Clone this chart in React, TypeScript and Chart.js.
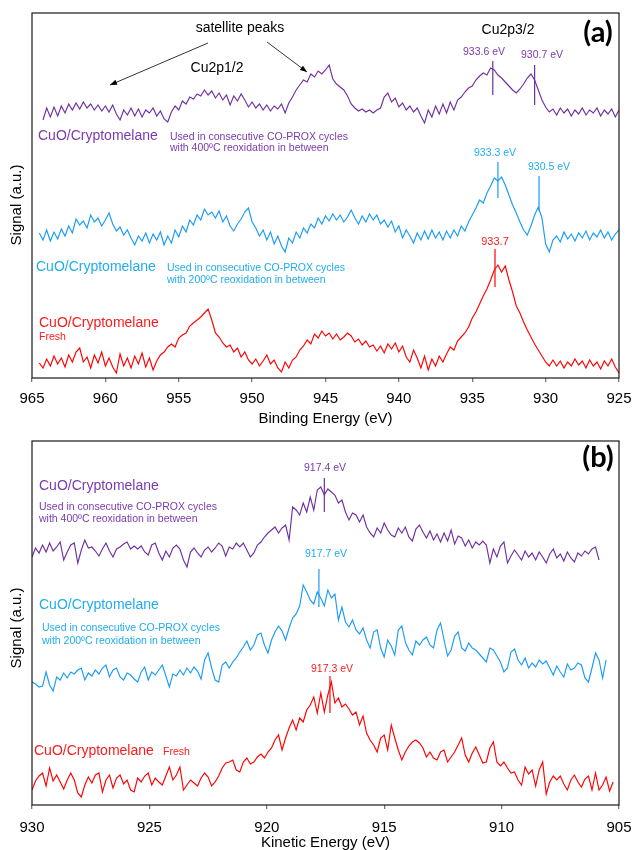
import React, { useEffect, useRef } from "react";
import { Chart, registerables } from "chart.js";
Chart.register(...registerables);

// ---------- Panel (a): Cu2p XPS, binding energy grid (eV) ----------
const energyA: number[] = Array.from({ length: 159 }, (_, i) => +(964.5 - 0.25 * i).toFixed(2));

const purpleA: (number | null)[] = [
  null,258,270,261,271,262,272,265,274,268,
  275,269,276,270,274,268,273,267,272,266,
  273,264,258,268,263,270,262,269,261,268,
  265,270,262,267,259,256,266,272,268,277,
  274,281,279,284,282,288,283,287,280,285,
  278,283,273,282,277,284,278,271,276,270,
  274,268,273,267,272,269,274,265,275,281,
  288,293,298,296,304,301,307,304,308,313,
  299,294,291,288,282,274,270,267,269,266,
  268,265,268,270,281,285,276,280,271,275,
  268,272,266,270,262,255,268,261,272,264,
  274,265,276,268,278,281,286,290,292,298,
  302,305,303,310,308,303,300,296,292,288,
  285,289,294,300,304,298,288,278,271,266,
  269,263,270,265,269,262,268,264,270,263,
  268,265,270,262,268,264,269,261,268,
];

const blueA: (number | null)[] = [
  145,138,148,137,146,139,149,142,152,145,
  159,153,157,150,163,156,160,152,158,165,
  154,147,151,143,148,140,133,142,137,145,
  135,144,138,146,133,142,135,148,141,152,
  146,158,153,163,158,169,163,166,160,167,
  156,162,152,147,154,159,166,170,156,150,
  142,148,138,146,134,142,132,126,140,135,
  146,140,150,145,154,150,160,154,162,157,
  164,158,163,156,161,168,160,154,162,156,
  164,158,163,154,158,151,157,146,152,140,
  148,142,135,145,138,147,139,148,140,146,
  138,147,140,148,142,152,147,156,163,170,
  178,175,185,192,200,197,201,193,183,173,
  165,156,148,143,152,163,171,160,134,126,
  138,142,136,146,139,144,137,145,140,147,
  138,145,141,148,140,146,138,144,148,
];

const redA: (number | null)[] = [
  15,10,19,12,22,14,20,11,23,16,
  26,30,16,21,10,23,15,26,12,20,
  11,5,24,12,20,10,22,14,25,11,
  20,8,17,23,26,31,34,31,40,43,
  45,52,55,58,61,65,69,58,45,41,
  35,31,33,26,30,21,26,18,14,19,
  12,17,23,14,18,10,6,16,10,18,
  21,28,32,38,34,44,40,47,42,45,
  39,44,38,41,45,42,36,39,33,37,
  31,33,27,32,25,34,29,35,26,32,
  21,16,28,20,10,22,8,19,12,22,
  16,24,31,28,37,41,45,51,60,66,
  74,82,89,98,108,113,106,112,98,86,
  72,65,56,48,41,34,28,22,16,12,
  18,12,17,10,16,12,19,13,17,10,
  18,12,16,9,17,12,19,11,5,
];

// peak marker lines (energy, low, high, series)
const markerEnergyA = [933.6, 930.75, 933.25, 930.45, 933.45];
const markerLowA = [283, 273, 180, 167, 91];
const markerHighA = [317, 313, 216, 202, 129];
const markerSeriesA = [0, 0, 1, 1, 2];

// ---------- Panel (b): Cu LMM Auger, kinetic energy grid (eV) ----------
const energyB: number[] = Array.from({ length: 166 }, (_, j) => +(930 - 0.15 * j).toFixed(2));

const purpleB: (number | null)[] = [
  248,257,252,260,253,262,254,258,263,245,
  253,260,262,242,255,265,257,258,254,249,
  256,262,254,248,256,258,261,263,256,259,
  256,259,253,250,260,262,252,245,254,248,
  257,260,256,245,238,253,257,252,248,255,
  258,253,257,262,259,249,258,256,262,258,
  262,255,248,252,260,263,268,272,275,278,
  272,277,280,265,298,295,290,302,293,308,
  295,315,318,310,316,313,310,302,305,293,
  285,292,290,283,290,278,272,268,277,272,
  282,275,270,268,277,272,278,268,264,276,
  280,273,267,274,265,271,263,272,264,275,
  261,269,267,259,265,257,263,260,264,260,
  242,256,248,259,263,242,249,255,250,245,
  254,248,252,245,253,248,242,251,256,247,
  251,244,253,247,243,252,249,254,251,256,
  258,245,null,null,null,null,
];

const blueB: (number | null)[] = [
  123,121,118,119,133,120,114,128,125,132,
  127,133,131,135,137,125,132,129,135,131,
  137,140,128,135,137,128,125,132,130,126,
  123,133,138,125,133,130,135,140,129,118,
  131,129,135,130,137,132,138,134,126,145,
  152,137,125,123,140,143,137,143,147,153,
  158,164,155,160,170,172,160,152,165,173,
  179,174,165,177,187,191,199,220,213,205,
  201,213,207,199,215,207,211,185,198,183,
  178,185,175,171,177,165,157,173,175,157,
  148,165,159,150,175,179,163,155,150,164,
  160,165,168,160,157,175,182,165,149,155,
  169,173,157,154,162,157,155,151,147,143,
  157,155,149,143,133,137,153,156,145,140,
  147,137,142,138,145,141,144,137,130,139,
  133,128,141,135,137,142,140,127,123,137,
  152,145,127,145,null,null,
];

const redB: (number | null)[] = [
  15,24,29,32,19,37,24,30,23,16,
  25,32,25,12,8,20,28,22,30,32,
  13,25,30,17,27,30,21,25,15,13,
  27,23,29,32,20,27,23,20,29,38,
  25,30,38,15,20,25,22,19,27,32,
  28,19,23,29,37,42,43,45,35,33,
  43,47,41,43,48,51,47,53,57,65,
  70,55,67,77,85,75,87,83,95,100,
  108,92,112,93,110,123,102,107,98,101,
  96,90,93,80,89,72,65,60,53,67,
  70,55,80,67,55,45,53,59,63,65,
  62,57,48,53,47,45,53,55,43,48,
  53,60,67,50,43,52,58,50,42,43,
  57,63,43,39,43,37,32,33,25,20,
  38,31,35,19,35,43,11,23,29,25,
  29,21,15,25,30,23,18,26,29,15,
  32,15,20,28,14,23,
];

const markerEnergyB = [917.55, 917.78, 917.31];
const markerLowB = [293, 198, 92];
const markerHighB = [327, 236, 129];
const markerSeriesB = [0, 1, 2];

const seriesNames = ["CuO/Cryptomelane (400ºC reox.)", "CuO/Cryptomelane (200ºC reox.)", "CuO/Cryptomelane Fresh"];
const lineColors = ["#7030A0", "#1A9BF5", "#FF0000"];
const textColors = ["#7A3AAE", "#20ACEF", "#FF1A1A"];

const FONT = "'Liberation Sans', Arial, sans-serif";

type Txt = { t: string; x: number; y: number; size: number; color: string; align?: CanvasTextAlign; bold?: boolean; family?: string };
type Arrow = { x1: number; y1: number; x2: number; y2: number };

const textsA: Txt[] = [
  { t: "satellite peaks", x: 240, y: 28, size: 14, color: "#000" },
  { t: "Cu2p1/2", x: 217, y: 68, size: 14, color: "#000" },
  { t: "Cu2p3/2", x: 508, y: 30, size: 14, color: "#000" },
  { t: "(a)", x: 598, y: 33, size: 29, color: "#000", bold: true, family: "Lato, 'Open Sans', sans-serif" },
  { t: "933.6 eV", x: 484, y: 52, size: 10.5, color: textColors[0] },
  { t: "930.7 eV", x: 542, y: 55, size: 10.5, color: textColors[0] },
  { t: "933.3 eV", x: 495, y: 153, size: 10.5, color: textColors[1] },
  { t: "930.5 eV", x: 549, y: 167, size: 10.5, color: textColors[1] },
  { t: "933.7", x: 495, y: 242, size: 11, color: textColors[2] },
  { t: "CuO/Cryptomelane", x: 38, y: 136, size: 14, color: textColors[0], align: "left" },
  { t: "Used in consecutive CO-PROX cycles", x: 170, y: 137, size: 10.5, color: textColors[0], align: "left" },
  { t: "with 400ºC reoxidation in between", x: 170, y: 148, size: 10.5, color: textColors[0], align: "left" },
  { t: "CuO/Cryptomelane", x: 36, y: 267, size: 14, color: textColors[1], align: "left" },
  { t: "Used in consecutive CO-PROX cycles", x: 167, y: 268, size: 10.5, color: textColors[1], align: "left" },
  { t: "with 200ºC reoxidation in between", x: 167, y: 280, size: 10.5, color: textColors[1], align: "left" },
  { t: "CuO/Cryptomelane", x: 39, y: 323, size: 14, color: textColors[2], align: "left" },
  { t: "Fresh", x: 39, y: 337, size: 10.5, color: textColors[2], align: "left" },
];
const arrowsA: Arrow[] = [
  { x1: 208, y1: 43, x2: 110, y2: 85 },
  { x1: 267, y1: 42, x2: 307, y2: 72 },
];

const textsB: Txt[] = [
  { t: "(b)", x: 598, y: 28, size: 29, color: "#000", bold: true, family: "Lato, 'Open Sans', sans-serif" },
  { t: "917.4 eV", x: 325, y: 38, size: 10.5, color: textColors[0] },
  { t: "917.7 eV", x: 326, y: 124, size: 10.5, color: textColors[1] },
  { t: "917.3 eV", x: 332, y: 239, size: 10.5, color: textColors[2] },
  { t: "CuO/Cryptomelane", x: 39, y: 56, size: 14, color: textColors[0], align: "left" },
  { t: "Used in consecutive CO-PROX cycles", x: 39, y: 77, size: 10.5, color: textColors[0], align: "left" },
  { t: "with 400ºC reoxidation in between", x: 39, y: 89, size: 10.5, color: textColors[0], align: "left" },
  { t: "CuO/Cryptomelane", x: 39, y: 175, size: 14, color: textColors[1], align: "left" },
  { t: "Used in consecutive CO-PROX cycles", x: 42, y: 198, size: 10.5, color: textColors[1], align: "left" },
  { t: "with 200ºC reoxidation in between", x: 42, y: 211, size: 10.5, color: textColors[1], align: "left" },
  { t: "CuO/Cryptomelane", x: 34, y: 321, size: 14, color: textColors[2], align: "left" },
  { t: "Fresh", x: 163, y: 322, size: 10.5, color: textColors[2], align: "left" },
];

function toPoints(xs: number[], ys: (number | null)[]) {
  const out: { x: number; y: number }[] = [];
  for (let i = 0; i < xs.length; i++) {
    const v = ys[i];
    if (v !== null && v !== undefined) out.push({ x: xs[i], y: v });
  }
  return out;
}

type PanelProps = {
  width: number;
  height: number;
  energies: number[];
  series: (number | null)[][];
  mE: number[];
  mLo: number[];
  mHi: number[];
  mS: number[];
  xMin: number;
  xMax: number;
  yMax: number;
  padTop: number;
  axisHeight: number;
  tickPad: number;
  titleBottom: number;
  titleLH: number;
  xTitle: string;
  yTitleY: number;
  texts: Txt[];
  arrows: Arrow[];
};

function Panel(p: PanelProps) {
  const ref = useRef<HTMLCanvasElement | null>(null);
  useEffect(() => {
    if (!ref.current) return;
    const datasets: any[] = p.series.map((s, k) => ({
      label: seriesNames[k],
      data: toPoints(p.energies, s),
      borderColor: lineColors[k],
      borderWidth: 1.15,
      pointRadius: 0,
      tension: 0,
      fill: false,
    }));
    p.mE.forEach((e, k) => {
      datasets.push({
        label: "marker" + k,
        data: [{ x: e, y: p.mLo[k] }, { x: e, y: p.mHi[k] }],
        borderColor: lineColors[p.mS[k]],
        borderWidth: 1.2,
        pointRadius: 0,
        fill: false,
      });
    });
    const deco = {
      id: "deco",
      afterDraw(chart: any) {
        const { ctx, chartArea } = chart;
        const { left, top, right, bottom } = chartArea;
        ctx.save();
        ctx.strokeStyle = "#1a1a1a";
        ctx.lineWidth = 1.2;
        ctx.strokeRect(left, top, right - left, bottom - top);
        // y-axis title
        ctx.save();
        ctx.translate(17, p.yTitleY);
        ctx.rotate(-Math.PI / 2);
        ctx.font = `15px ${FONT}`;
        ctx.fillStyle = "#000";
        ctx.textAlign = "center";
        ctx.textBaseline = "middle";
        ctx.fillText("Signal (a.u.)", 0, 0);
        ctx.restore();
        for (const t of p.texts) {
          ctx.font = `${t.bold ? "bold " : ""}${t.size}px ${t.family || FONT}`;
          ctx.fillStyle = t.color;
          ctx.textAlign = t.align || "center";
          ctx.textBaseline = "middle";
          ctx.fillText(t.t, t.x, t.y);
        }
        ctx.strokeStyle = "#000";
        ctx.fillStyle = "#000";
        ctx.lineWidth = 0.8;
        for (const a of p.arrows) {
          ctx.beginPath();
          ctx.moveTo(a.x1, a.y1);
          ctx.lineTo(a.x2, a.y2);
          ctx.stroke();
          const ang = Math.atan2(a.y2 - a.y1, a.x2 - a.x1);
          const L = 7, W = 2.6;
          ctx.beginPath();
          ctx.moveTo(a.x2, a.y2);
          ctx.lineTo(a.x2 - L * Math.cos(ang) + W * Math.sin(ang), a.y2 - L * Math.sin(ang) - W * Math.cos(ang));
          ctx.lineTo(a.x2 - L * Math.cos(ang) - W * Math.sin(ang), a.y2 - L * Math.sin(ang) + W * Math.cos(ang));
          ctx.closePath();
          ctx.fill();
        }
        ctx.restore();
      },
    };
    const chart = new Chart(ref.current, {
      type: "line",
      data: { datasets },
      options: {
        animation: false,
        responsive: false,
        maintainAspectRatio: false,
        parsing: true,
        layout: { padding: { left: 32, right: 16, top: p.padTop, bottom: 0 } },
        plugins: { legend: { display: false }, tooltip: { enabled: false }, title: { display: false } },
        scales: {
          x: {
            type: "linear",
            min: p.xMin,
            max: p.xMax,
            reverse: true,
            ticks: {
              stepSize: 5,
              color: "#000",
              font: { family: FONT, size: 15 },
              padding: p.tickPad,
              maxRotation: 0,
              autoSkip: false,
            },
            grid: { drawOnChartArea: false, drawTicks: true, tickLength: 4, color: "#7a7a7a", lineWidth: 1.3 },
            border: { display: false },
            title: {
              display: true,
              text: p.xTitle,
              color: "#000",
              font: { family: FONT, size: 15, lineHeight: p.titleLH },
              padding: { top: 0, bottom: p.titleBottom },
            },
            afterFit: (s: any) => {
              s.height = p.axisHeight;
              s.paddingLeft = 0;
              s.paddingRight = 0;
            },
          },
          y: { display: false, min: 0, max: p.yMax },
        },
      },
      plugins: [deco],
    } as any);
    return () => chart.destroy();
  }, []);
  return <canvas ref={ref} width={p.width} height={p.height} style={{ display: "block", width: p.width, height: p.height }} />;
}

export default function App() {
  return (
    <div style={{ position: "absolute", left: 0, top: 0, width: 635, height: 850, background: "#fff" }}>
      <div style={{ position: "absolute", left: 0, top: 0 }}>
        <Panel
          width={635}
          height={430}
          energies={energyA}
          series={[purpleA, blueA, redA]}
          mE={markerEnergyA}
          mLo={markerLowA}
          mHi={markerHighA}
          mS={markerSeriesA}
          xMin={925}
          xMax={965}
          yMax={365}
          padTop={13}
          axisHeight={52}
          tickPad={8}
          titleBottom={2}
          titleLH={1.2}
          xTitle="Binding Energy (eV)"
          yTitleY={205}
          texts={textsA}
          arrows={arrowsA}
        />
      </div>
      <div style={{ position: "absolute", left: 0, top: 430 }}>
        <Panel
          width={635}
          height={420}
          energies={energyB}
          series={[purpleB, blueB, redB]}
          mE={markerEnergyB}
          mLo={markerLowB}
          mHi={markerHighB}
          mS={markerSeriesB}
          xMin={905}
          xMax={930}
          yMax={364}
          padTop={11}
          axisHeight={45}
          tickPad={10}
          titleBottom={0}
          titleLH={0.95}
          xTitle="Kinetic Energy (eV)"
          yTitleY={198}
          texts={textsB}
          arrows={[]}
        />
      </div>
    </div>
  );
}
